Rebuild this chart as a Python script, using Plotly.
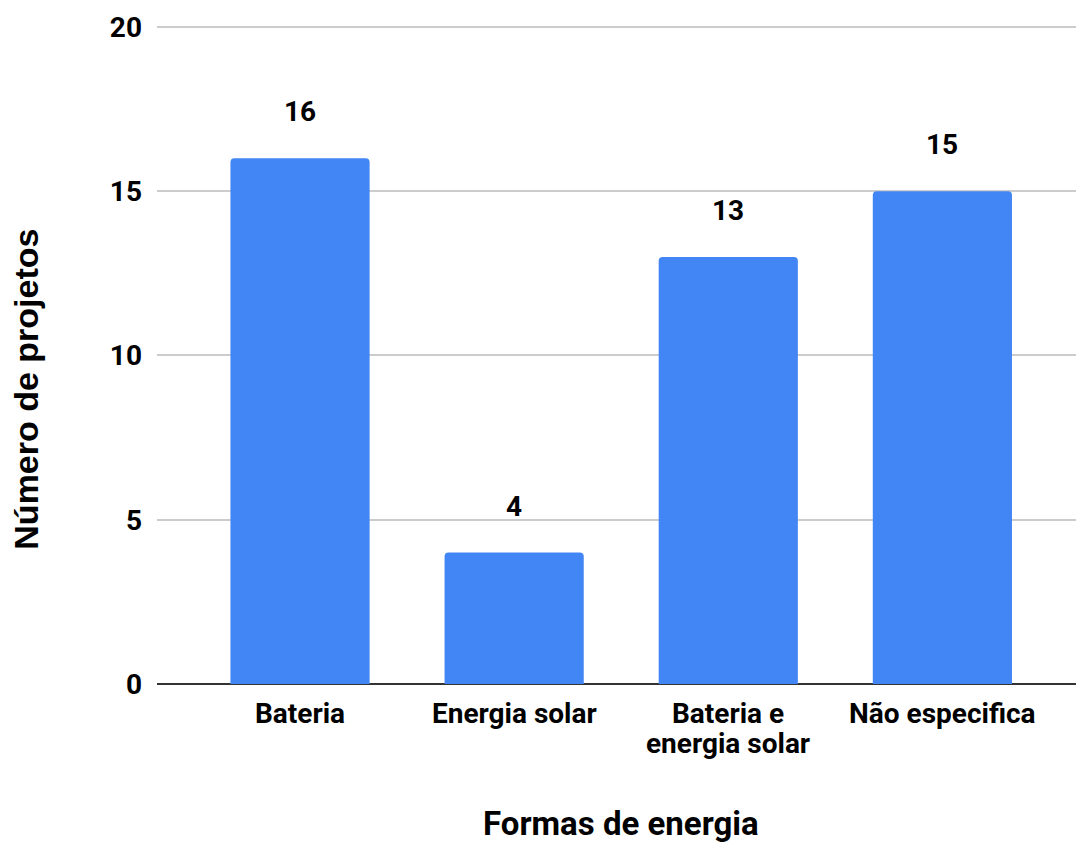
import plotly.graph_objects as go

categories = ["Bateria", "Energia solar", "Bateria e<br>energia solar", "Não especifica"]
values = [16, 4, 13, 15]
y_ticks = [0, 5, 10, 15, 20]

FONT = "Roboto"
fig = go.Figure()
fig.add_trace(go.Bar(
    x=list(range(len(categories))),
    y=values,
    width=0.65,
    marker=dict(color="#4285F4", line=dict(width=0), cornerradius=4),
    hoverinfo="skip",
))

# value labels above bars
for i, v in enumerate(values):
    fig.add_annotation(
        x=i, y=v, text=f"<b>{v}</b>", showarrow=False,
        yanchor="bottom", yshift=28,
        font=dict(family=FONT, size=28, color="#000000"),
    )

# category labels (one annotation per line for tighter line spacing)
for i, c in enumerate(categories):
    for k, line in enumerate(c.split("<br>")):
        fig.add_annotation(
            x=i, y=0, text=f"<b>{line}</b>", showarrow=False,
            yanchor="top", yshift=-11 - 30 * k,
            font=dict(family=FONT, size=28, color="#000000"),
        )

# axis titles
fig.add_annotation(
    xref="paper", yref="paper", x=-0.1425, y=0.446,
    text="<b>Número de projetos</b>", textangle=-90, showarrow=False,
    xanchor="center", yanchor="middle",
    font=dict(family="Liberation Sans", size=34, color="#000000"),
)
fig.add_annotation(
    xref="paper", yref="paper", x=0.505, y=-0.2116,
    text="<b>Formas de energia</b>", showarrow=False,
    xanchor="center", yanchor="middle",
    font=dict(family=FONT, size=33, color="#000000"),
)

fig.update_layout(
    width=1076, height=847,
    margin=dict(l=157, r=0, t=24, b=163),
    plot_bgcolor="white", paper_bgcolor="white",
    showlegend=False,
    font=dict(family=FONT, size=28, color="#000000"),
    xaxis=dict(
        range=[-0.668, 3.624],
        tickmode="array",
        tickvals=list(range(len(categories))),
        ticktext=["" for _ in categories],
        showgrid=False, zeroline=False,
        showline=False, ticks="",
    ),
    yaxis=dict(
        range=[0, 20.09],
        tickmode="array",
        tickvals=y_ticks,
        ticktext=[f"<b>{t}</b>" for t in y_ticks],
        showgrid=True, gridcolor="#cccccc", gridwidth=2,
        zeroline=True, zerolinecolor="#333333", zerolinewidth=2,
        ticks="", ticklabelstandoff=14,
        tickfont=dict(family=FONT, size=28, color="#000000"),
    ),
)

fig.write_html("out.html")
